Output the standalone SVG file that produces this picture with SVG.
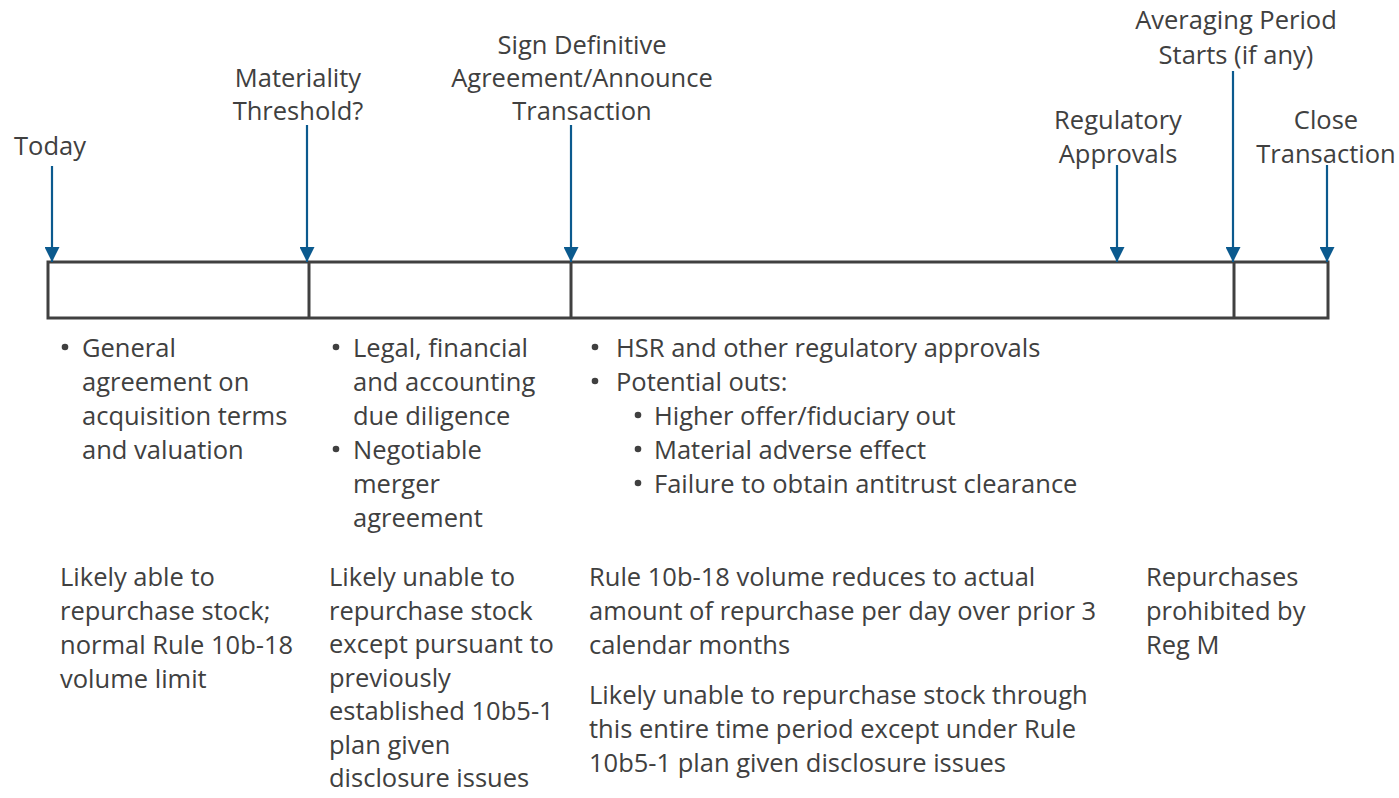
<svg xmlns="http://www.w3.org/2000/svg" width="1399" height="798" viewBox="0 0 1399 798">
<defs>
<style>
text{font-family:"Open Sans","Liberation Sans",sans-serif;font-size:25.5px;fill:#404040}
.c{text-anchor:middle}
.arr{stroke:#0b5a8e;stroke-width:2.2;fill:none}
.box{stroke:#404040;stroke-width:3;fill:none}
.dot{fill:#404040}
</style>
<marker id="ah" viewBox="0 0 10 10" refX="10" refY="5" markerWidth="15" markerHeight="15" markerUnits="userSpaceOnUse" orient="auto"><path d="M0,0 L10,5 L0,10 z" fill="#0b5a8e"/></marker>
</defs>
<rect width="1399" height="798" fill="#fff"/>
<g id="timeline">
<rect class="box" x="48" y="262" width="1280" height="56"/>
<line class="box" x1="309" y1="262" x2="309" y2="318"/>
<line class="box" x1="571" y1="262" x2="571" y2="318"/>
<line class="box" x1="1234" y1="262" x2="1234" y2="318"/>
</g>
<g id="connectors">
<line class="arr" x1="52" y1="166" x2="52" y2="262" marker-end="url(#ah)"/>
<line class="arr" x1="307" y1="125" x2="307" y2="262" marker-end="url(#ah)"/>
<line class="arr" x1="571" y1="125" x2="571" y2="262" marker-end="url(#ah)"/>
<line class="arr" x1="1117" y1="165" x2="1117" y2="262" marker-end="url(#ah)"/>
<line class="arr" x1="1233" y1="71" x2="1233" y2="262" marker-end="url(#ah)"/>
<line class="arr" x1="1327" y1="165" x2="1327" y2="262" marker-end="url(#ah)"/>
</g>
<g id="today"><text class="c" x="50" y="155">Today</text></g>
<g id="materiality"><text class="c" x="298" y="87">Materiality<tspan x="298" y="120">Threshold?</tspan></text></g>
<g id="sign"><text class="c" x="582" y="54">Sign Definitive<tspan x="582" y="87">Agreement/Announce</tspan><tspan x="582" y="120">Transaction</tspan></text></g>
<g id="regulatory"><text class="c" x="1118" y="129">Regulatory<tspan x="1118" y="163">Approvals</tspan></text></g>
<g id="averaging"><text class="c" x="1236" y="29">Averaging Period<tspan x="1236" y="64">Starts (if any)</tspan></text></g>
<g id="close"><text class="c" x="1326" y="129">Close<tspan x="1326" y="163">Transaction</tspan></text></g>
<g id="col1-bullets">
<circle class="dot" cx="65" cy="347" r="3.3"/>
<text x="82" y="357">General<tspan x="82" y="391">agreement on</tspan><tspan x="82" y="425">acquisition terms</tspan><tspan x="82" y="459">and valuation</tspan></text>
</g>
<g id="col2-bullets">
<circle class="dot" cx="336" cy="347" r="3.3"/>
<circle class="dot" cx="336" cy="449" r="3.3"/>
<text x="353" y="357">Legal, financial<tspan x="353" y="391">and accounting</tspan><tspan x="353" y="425">due diligence</tspan><tspan x="353" y="459">Negotiable</tspan><tspan x="353" y="493">merger</tspan><tspan x="353" y="527">agreement</tspan></text>
</g>
<g id="col3-bullets">
<circle class="dot" cx="595" cy="347" r="3.3"/>
<circle class="dot" cx="595" cy="381" r="3.3"/>
<circle class="dot" cx="638" cy="415" r="3.3"/>
<circle class="dot" cx="638" cy="449" r="3.3"/>
<circle class="dot" cx="638" cy="483" r="3.3"/>
<text x="616" y="357">HSR and other regulatory approvals<tspan x="616" y="391">Potential outs:</tspan><tspan x="654" y="425">Higher offer/fiduciary out</tspan><tspan x="654" y="459">Material adverse effect</tspan><tspan x="654" y="493">Failure to obtain antitrust clearance</tspan></text>
</g>
<g id="col1-notes"><text x="60" y="586">Likely able to<tspan x="60" y="620">repurchase stock;</tspan><tspan x="60" y="654">normal Rule 10b-18</tspan><tspan x="60" y="688">volume limit</tspan></text></g>
<g id="col2-notes"><text x="329" y="586">Likely unable to<tspan x="329" y="619.5">repurchase stock</tspan><tspan x="329" y="653">except pursuant to</tspan><tspan x="329" y="686.5">previously</tspan><tspan x="329" y="720">established 10b5-1</tspan><tspan x="329" y="753.5">plan given</tspan><tspan x="329" y="787">disclosure issues</tspan></text></g>
<g id="col3-notes"><text x="589" y="586">Rule 10b-18 volume reduces to actual<tspan x="589" y="620">amount of repurchase per day over prior 3</tspan><tspan x="589" y="654">calendar months</tspan><tspan x="589" y="704">Likely unable to repurchase stock through</tspan><tspan x="589" y="738">this entire time period except under Rule</tspan><tspan x="589" y="772">10b5-1 plan given disclosure issues</tspan></text></g>
<g id="col4-notes"><text x="1146" y="586">Repurchases<tspan x="1146" y="620">prohibited by</tspan><tspan x="1146" y="654">Reg M</tspan></text></g>
</svg>
